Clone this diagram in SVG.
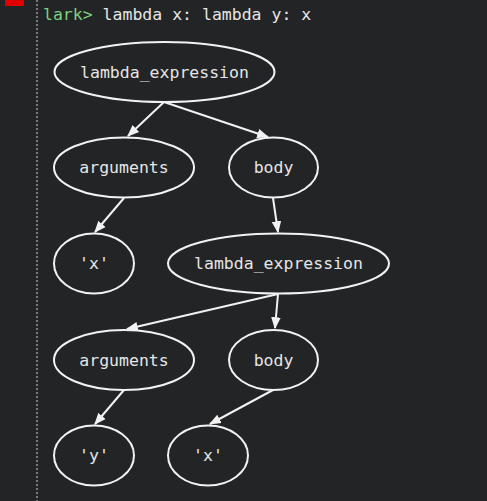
<svg xmlns="http://www.w3.org/2000/svg" width="487" height="501" viewBox="0 0 487 501">
<style>
.n ellipse{fill:none;stroke:#f2f2f2;stroke-width:2}
.n text,.t{font-family:"DejaVu Sans Mono","Liberation Mono",monospace;font-size:16.5px;fill:#e6e6e6;text-anchor:middle;dominant-baseline:central}
.e line{stroke:#f2f2f2;stroke-width:2;marker-end:url(#a)}
</style>
<defs>
<marker id="a" viewBox="0 0 10 10" refX="9" refY="5" markerWidth="6" markerHeight="6" markerUnits="strokeWidth" orient="auto">
<path d="M0,1 L10,5 L0,9 z" fill="#f2f2f2"/>
</marker>
</defs>
<rect width="487" height="501" fill="#222426"/>
<rect x="5" y="0" width="19" height="6" fill="#e00000"/>
<line x1="37" y1="0" x2="37" y2="501" stroke="#cfcfcf" stroke-width="1" stroke-dasharray="2,2"/>
<text x="43" y="20" font-family="DejaVu Sans Mono,Liberation Mono,monospace" font-size="16.5" fill="#7fd07f">lark&gt;<tspan fill="#e6e6e6"> lambda x: lambda y: x</tspan></text>
<g class="e">
<line x1="164" y1="102" x2="128" y2="136"/>
<line x1="164" y1="102" x2="268" y2="137"/>
<line x1="124" y1="198" x2="95" y2="232"/>
<line x1="273" y1="198" x2="278" y2="232"/>
<line x1="278" y1="294" x2="127" y2="329"/>
<line x1="278" y1="294" x2="275" y2="328"/>
<line x1="124" y1="390" x2="95" y2="424"/>
<line x1="273" y1="390" x2="210" y2="424"/>
</g>
<g id="n1" class="n"><ellipse cx="164.5" cy="72" rx="110" ry="30"/><text x="164.5" y="72">lambda_expression</text></g>
<g id="n2" class="n"><ellipse cx="124" cy="167.5" rx="70" ry="30"/><text x="124" y="167.5">arguments</text></g>
<g id="n3" class="n"><ellipse cx="273.5" cy="167.5" rx="44.5" ry="30"/><text x="273.5" y="167.5">body</text></g>
<g id="n4" class="n"><ellipse cx="94" cy="263.5" rx="40" ry="30"/><text x="94" y="263.5">'x'</text></g>
<g id="n5" class="n"><ellipse cx="278.5" cy="263.5" rx="110.5" ry="30"/><text x="278.5" y="263.5">lambda_expression</text></g>
<g id="n6" class="n"><ellipse cx="124" cy="360" rx="70" ry="30"/><text x="124" y="360">arguments</text></g>
<g id="n7" class="n"><ellipse cx="273.5" cy="360" rx="44.5" ry="30"/><text x="273.5" y="360">body</text></g>
<g id="n8" class="n"><ellipse cx="94" cy="455.5" rx="40" ry="30"/><text x="94" y="455.5">'y'</text></g>
<g id="n9" class="n"><ellipse cx="208" cy="455.5" rx="40" ry="30"/><text x="208" y="455.5">'x'</text></g>
</svg>
